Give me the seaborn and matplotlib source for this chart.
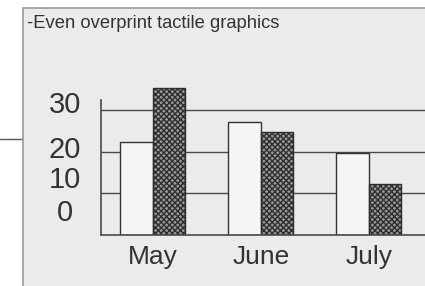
import pandas as pd
import seaborn as sns
import matplotlib.pyplot as plt
from matplotlib.patches import Rectangle
from matplotlib.lines import Line2D

# data
months = ['May', 'June', 'July']
series_a = [22.5, 27.2, 19.7]
series_b = [35.3, 24.8, 12.3]
grid_values = [10, 20, 30]
ytick_labels = ['0', '10', '20', '30']
title = '-Even overprint tactile graphics'

df = pd.DataFrame({
    'month': months * 2,
    'value': series_a + series_b,
    'series': ['A'] * 3 + ['B'] * 3,
})

sns.set_style('white')
plt.rcParams['font.family'] = ['Liberation Sans', 'DejaVu Sans']

page = '#ebebeb'
ink = '#333333'

fig = plt.figure(figsize=(4.25, 2.86), dpi=100, facecolor='white')

# page of the photographed sheet
fig.patches.append(Rectangle((23 / 425, -0.1), 1.2, 1.1 - 8 / 286, transform=fig.transFigure,
                             facecolor=page, edgecolor='#9a9a9a', linewidth=1.2, zorder=-1))
fig.lines.append(Line2D([0, 24 / 425], [1 - 139 / 286] * 2, transform=fig.transFigure,
                        color='#555555', linewidth=1, zorder=-1))

ax = fig.add_axes([101 / 425, 51 / 286, 324 / 425, 155 / 286])
ax.set_zorder(1)
ax.set_facecolor(page)

for v in grid_values:
    ax.axhline(v, color='#4a4a4a', linewidth=1, zorder=0.5)

sns.barplot(data=df, x='month', y='value', hue='series', ax=ax,
            palette=['#f5f5f5', '#999999'], saturation=1, width=0.6, gap=0,
            edgecolor='#333333', linewidth=1, legend=False, zorder=2)

# second series is the textured overprint
n = len(months)
for p in ax.patches[n:2 * n]:
    p.set_hatch('xxxxxx')
    p.set_edgecolor('#2e2e2e')

ax.set_xlim(-0.48, 2.52)
ax.set_ylim(0, 37.3)
ax.set_xlabel('')
ax.set_ylabel('')

# labels sit a little off the grid lines on the sheet
ax.set_yticks([6.0, 13.9, 21.2, 32.0])
ax.set_yticklabels(ytick_labels, fontsize=21, color=ink, ha='center')
ax.tick_params(axis='y', length=0, pad=26)
ax.tick_params(axis='x', length=0, pad=7, labelsize=19, labelcolor=ink)

for s in ['top', 'right']:
    ax.spines[s].set_visible(False)
ax.spines['left'].set_bounds(0, 32.4)
for s in ['left', 'bottom']:
    ax.spines[s].set_color('#4a4a4a')
    ax.spines[s].set_linewidth(1.2)

fig.text(27 / 425, 1 - 23 / 286, title, fontsize=13.2, color=ink, va='center', ha='left')

fig.savefig('out.png', dpi=100, facecolor='white')
